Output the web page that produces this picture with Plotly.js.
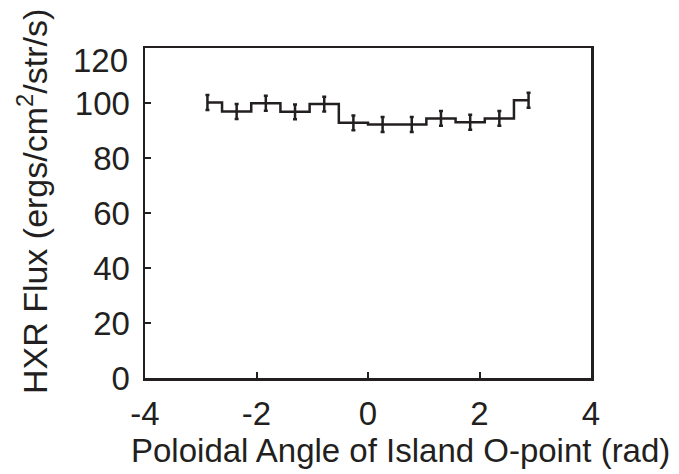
<!DOCTYPE html>
<html>
<head>
<meta charset="utf-8">
<script src="https://cdn.plot.ly/plotly-3.0.1.min.js"></script>
<style>
  html, body { margin: 0; padding: 0; background: #ffffff; }
  #chart { width: 679px; height: 474px; }
</style>
</head>
<body>
<div id="chart"></div>
<script>
// Bin centres of the poloidal angle histogram (12 bins over -pi..pi)
const binCenters = [-2.880, -2.356, -1.833, -1.309, -0.785, -0.262,
                     0.262,  0.785,  1.309,  1.833,  2.356,  2.880];
// HXR flux per bin (ergs/cm^2/str/s)
const fluxValues = [100.2, 96.9, 99.9, 96.8, 99.6, 92.8,
                     92.2, 92.2, 94.4, 93.0, 94.4, 101.0];
// One-sigma uncertainty per bin
const fluxErrors = [2.7, 2.7, 2.7, 2.7, 2.7, 2.7,
                    2.7, 2.7, 2.7, 2.7, 2.7, 2.7];
// Axis ticks
const xTicks = [-4, -2, 0, 2, 4];
const yTicks = [0, 20, 40, 60, 80, 100, 120];
const xTitle = 'Poloidal Angle of Island O-point (rad)';
const yTitle = 'HXR Flux (ergs/cm<sup>2</sup>/str/s)';

const ink = '#231f20';
const family = 'Liberation Sans, Arial, Helvetica, sans-serif';
const tickFont = {family: family, size: 33, color: ink};
const xTitleFont = {family: family, size: 33, color: ink};
const yTitleFont = {family: family, size: 34, color: ink};

const trace = {
  x: binCenters,
  y: fluxValues,
  type: 'scatter',
  mode: 'lines',
  line: {shape: 'hvh', color: ink, width: 2.5},
  error_y: {type: 'data', array: fluxErrors, visible: true, color: ink, thickness: 2.5, width: 2},
  hoverinfo: 'x+y'
};

// The top y label sits just under the frame corner, so it is drawn separately
const topY = yTicks[yTicks.length - 1];

const layout = {
  width: 679,
  height: 474,
  margin: {l: 145, r: 88, t: 48, b: 96},
  paper_bgcolor: '#ffffff',
  plot_bgcolor: '#ffffff',
  showlegend: false,
  font: tickFont,
  xaxis: {
    range: [-4, 4],
    tickvals: xTicks,
    ticktext: xTicks.map(String),
    ticks: 'inside',
    ticklen: 6,
    tickwidth: 2,
    tickcolor: ink,
    ticklabelstandoff: 5,
    showline: true,
    linecolor: ink,
    linewidth: 2.5,
    mirror: true,
    showgrid: false,
    zeroline: false,
    tickfont: tickFont
  },
  yaxis: {
    range: [0, 120],
    tickvals: yTicks,
    ticktext: yTicks.map(v => v === topY ? '' : String(v)),
    ticks: 'inside',
    ticklen: 6,
    tickwidth: 2,
    tickcolor: ink,
    ticklabelstandoff: 6,
    showline: true,
    linecolor: ink,
    linewidth: 2.5,
    mirror: true,
    showgrid: false,
    zeroline: false,
    tickfont: tickFont
  },
  annotations: [
    {
      text: String(topY), x: 0, xref: 'paper', y: topY, yref: 'y',
      xanchor: 'right', yanchor: 'middle', xshift: -15, yshift: -12,
      showarrow: false, font: tickFont
    },
    {
      text: xTitle, x: 0.572, xref: 'paper', y: -0.221, yref: 'paper',
      xanchor: 'center', yanchor: 'middle', showarrow: false, font: xTitleFont
    },
    {
      text: yTitle, x: -0.2534, xref: 'paper', y: 0.536, yref: 'paper',
      xanchor: 'center', yanchor: 'middle', textangle: -90, showarrow: false, font: yTitleFont
    }
  ]
};

Plotly.newPlot('chart', [trace], layout, {displayModeBar: false, staticPlot: true});
</script>
</body>
</html>
